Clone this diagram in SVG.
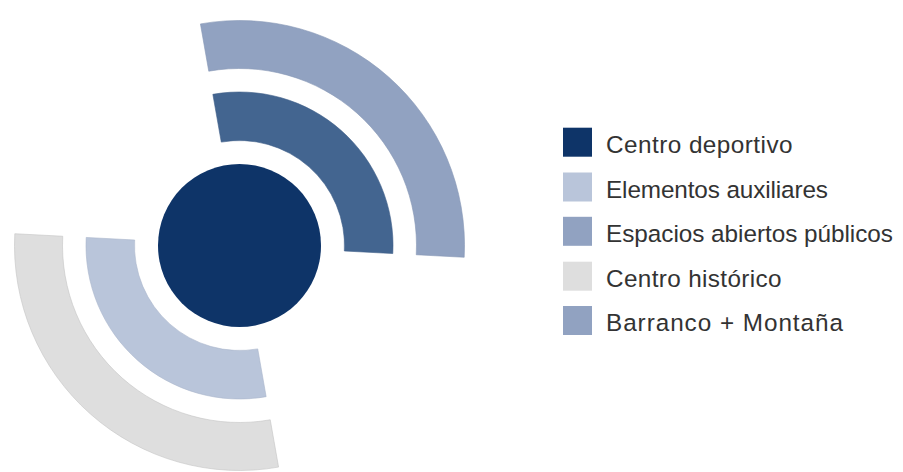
<svg xmlns="http://www.w3.org/2000/svg" width="903" height="472" viewBox="0 0 903 472">
<style>
.lbl{font-family:"Liberation Sans",Arial,sans-serif;font-size:24.3px;fill:#333333;}
.sw{stroke:none;}
</style>
<rect width="903" height="472" fill="#ffffff"/>
<g id="arc-outer-top">
<path d="M200.429,23.918 A225,225 0 0 1 464.192,257.276 L416.258,254.763 A177,177 0 0 0 208.764,71.189 Z" fill="#91A2C1" stroke="#8797B5" stroke-width="0.6"/>
</g>
<g id="arc-inner-top">
<path d="M212.845,94.332 A153.5,153.5 0 0 1 392.790,253.534 L344.356,250.995 A105,105 0 0 0 221.267,142.095 Z" fill="#436590" stroke="#3E5E88" stroke-width="0.6"/>
</g>
<g id="arc-inner-bottom">
<path d="M266.155,396.668 A153.5,153.5 0 0 1 86.210,237.466 L134.644,240.005 A105,105 0 0 0 257.733,348.905 Z" fill="#B9C5DA" stroke="#A9B5CB" stroke-width="0.6"/>
</g>
<g id="arc-outer-bottom">
<path d="M278.571,467.082 A225,225 0 0 1 14.808,233.724 L62.742,236.237 A177,177 0 0 0 270.236,419.811 Z" fill="#DEDEDE" stroke="#C4C4C4" stroke-width="0.6"/>
</g>
<g id="center">
<circle cx="239.5" cy="245.5" r="81.5" fill="#0E3468"/>
</g>
<g id="legend">
<g id="legend-centro-deportivo">
<rect class="sw" x="563" y="127.7" width="29" height="29" fill="#0E3468"/>
<text class="lbl" x="606" y="153.2" textLength="186.5" lengthAdjust="spacing">Centro deportivo</text>
</g>
<g id="legend-elementos-auxiliares">
<rect class="sw" x="563" y="172.5" width="29" height="29" fill="#B9C5DA"/>
<text class="lbl" x="606" y="197.6" textLength="222" lengthAdjust="spacing">Elementos auxiliares</text>
</g>
<g id="legend-espacios-abiertos">
<rect class="sw" x="563" y="216.8" width="29" height="29" fill="#91A2C1"/>
<text class="lbl" x="606" y="242.2" textLength="287" lengthAdjust="spacing">Espacios abiertos públicos</text>
</g>
<g id="legend-centro-historico">
<rect class="sw" x="563" y="261.7" width="29" height="29" fill="#DEDEDE"/>
<text class="lbl" x="606" y="286.8" textLength="175.5" lengthAdjust="spacing">Centro histórico</text>
</g>
<g id="legend-barranco-montana">
<rect class="sw" x="563" y="306" width="29" height="29" fill="#91A2C1"/>
<text class="lbl" x="606" y="331.2" textLength="237" lengthAdjust="spacing">Barranco + Montaña</text>
</g>
</g>
</svg>
